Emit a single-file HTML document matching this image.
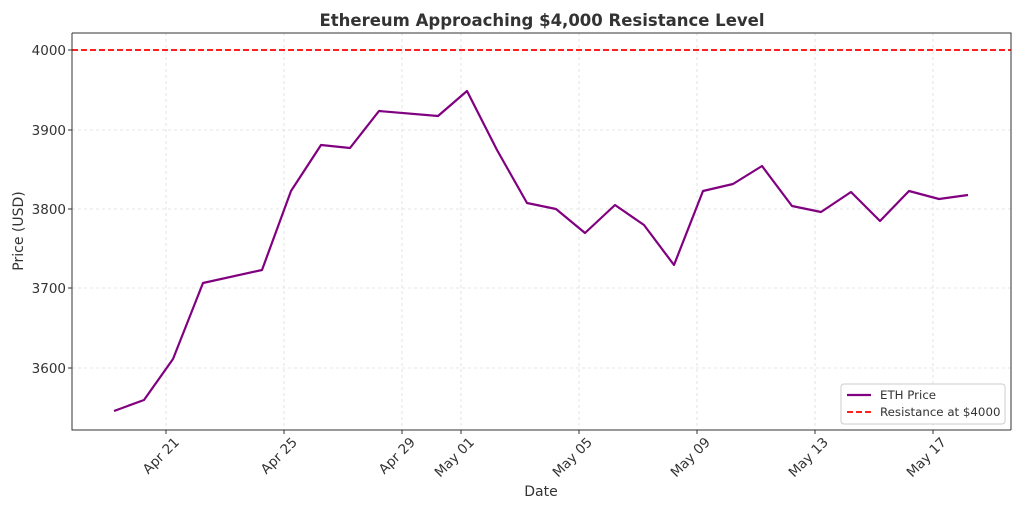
<!DOCTYPE html>
<html><head><meta charset="utf-8"><style>body{margin:0;background:#fff}</style></head><body>
<svg width="1024" height="512" xmlns="http://www.w3.org/2000/svg" font-family="DejaVu Sans, Liberation Sans, sans-serif">
<rect width="1024" height="512" fill="#fff"/>
<text x="542" y="26" text-anchor="middle" font-size="16.5" font-weight="bold" fill="#333">Ethereum Approaching $4,000 Resistance Level</text>
<g stroke="#ddd" stroke-dasharray="3,3" stroke-width="0.8">
<line x1="166" y1="33" x2="166" y2="430"/><line x1="284" y1="33" x2="284" y2="430"/><line x1="402" y1="33" x2="402" y2="430"/><line x1="461" y1="33" x2="461" y2="430"/><line x1="579" y1="33" x2="579" y2="430"/><line x1="697" y1="33" x2="697" y2="430"/><line x1="815" y1="33" x2="815" y2="430"/><line x1="933" y1="33" x2="933" y2="430"/>
<line x1="72" y1="50" x2="1011" y2="50"/><line x1="72" y1="130" x2="1011" y2="130"/><line x1="72" y1="209" x2="1011" y2="209"/><line x1="72" y1="288" x2="1011" y2="288"/><line x1="72" y1="368" x2="1011" y2="368"/>
</g>
<line x1="72" y1="50" x2="1011" y2="50" stroke="#f00" stroke-width="1.8" stroke-dasharray="6,3"/>
<polyline fill="none" stroke="#800080" stroke-width="2.2" stroke-linejoin="round" points="114,411 144,400 173,359 203,283 262,270 291,191 321,145 350,148 379,111 438,116 467,91 497,150 527,203 556,209 585,233 615,205 644,225 674,265 703,191 733,184 762,166 792,206 821,212 851,192 880,221 909,191 939,199 968,195"/>
<path d="M72,33 V430 H1011" fill="none" stroke="#333" stroke-width="1"/>
<path d="M72,33 H1011 V430" fill="none" stroke="#333" stroke-width="1"/>
<g stroke="#333"><line x1="166" y1="430" x2="166" y2="434"/><line x1="284" y1="430" x2="284" y2="434"/><line x1="402" y1="430" x2="402" y2="434"/><line x1="461" y1="430" x2="461" y2="434"/><line x1="579" y1="430" x2="579" y2="434"/><line x1="697" y1="430" x2="697" y2="434"/><line x1="815" y1="430" x2="815" y2="434"/><line x1="933" y1="430" x2="933" y2="434"/>
<line x1="68" y1="50" x2="72" y2="50"/><line x1="68" y1="130" x2="72" y2="130"/><line x1="68" y1="209" x2="72" y2="209"/><line x1="68" y1="288" x2="72" y2="288"/><line x1="68" y1="368" x2="72" y2="368"/></g>
<g font-size="13.5" fill="#333" text-anchor="end">
<text x="66" y="55">4000</text><text x="66" y="135">3900</text><text x="66" y="214">3800</text><text x="66" y="293">3700</text><text x="66" y="373">3600</text>
<text transform="translate(180,443) rotate(-45)">Apr 21</text><text transform="translate(298,443) rotate(-45)">Apr 25</text><text transform="translate(416,443) rotate(-45)">Apr 29</text><text transform="translate(475,443) rotate(-45)">May 01</text><text transform="translate(593,443) rotate(-45)">May 05</text><text transform="translate(711,443) rotate(-45)">May 09</text><text transform="translate(829,443) rotate(-45)">May 13</text><text transform="translate(947,443) rotate(-45)">May 17</text>
</g>
<text x="541" y="496" text-anchor="middle" font-size="14" fill="#333">Date</text>
<text transform="translate(23,231) rotate(-90)" text-anchor="middle" font-size="14" fill="#333">Price (USD)</text>
<rect x="841" y="384" width="164" height="40" rx="3" fill="#fff" stroke="#ccc"/>
<line x1="847" y1="395" x2="871" y2="395" stroke="#800080" stroke-width="2.2"/>
<line x1="847" y1="412" x2="871" y2="412" stroke="#f00" stroke-width="1.8" stroke-dasharray="6,3"/>
<g font-size="11.8" fill="#333"><text x="880" y="399">ETH Price</text><text x="880" y="416">Resistance at $4000</text></g>
</svg>
</body></html>
